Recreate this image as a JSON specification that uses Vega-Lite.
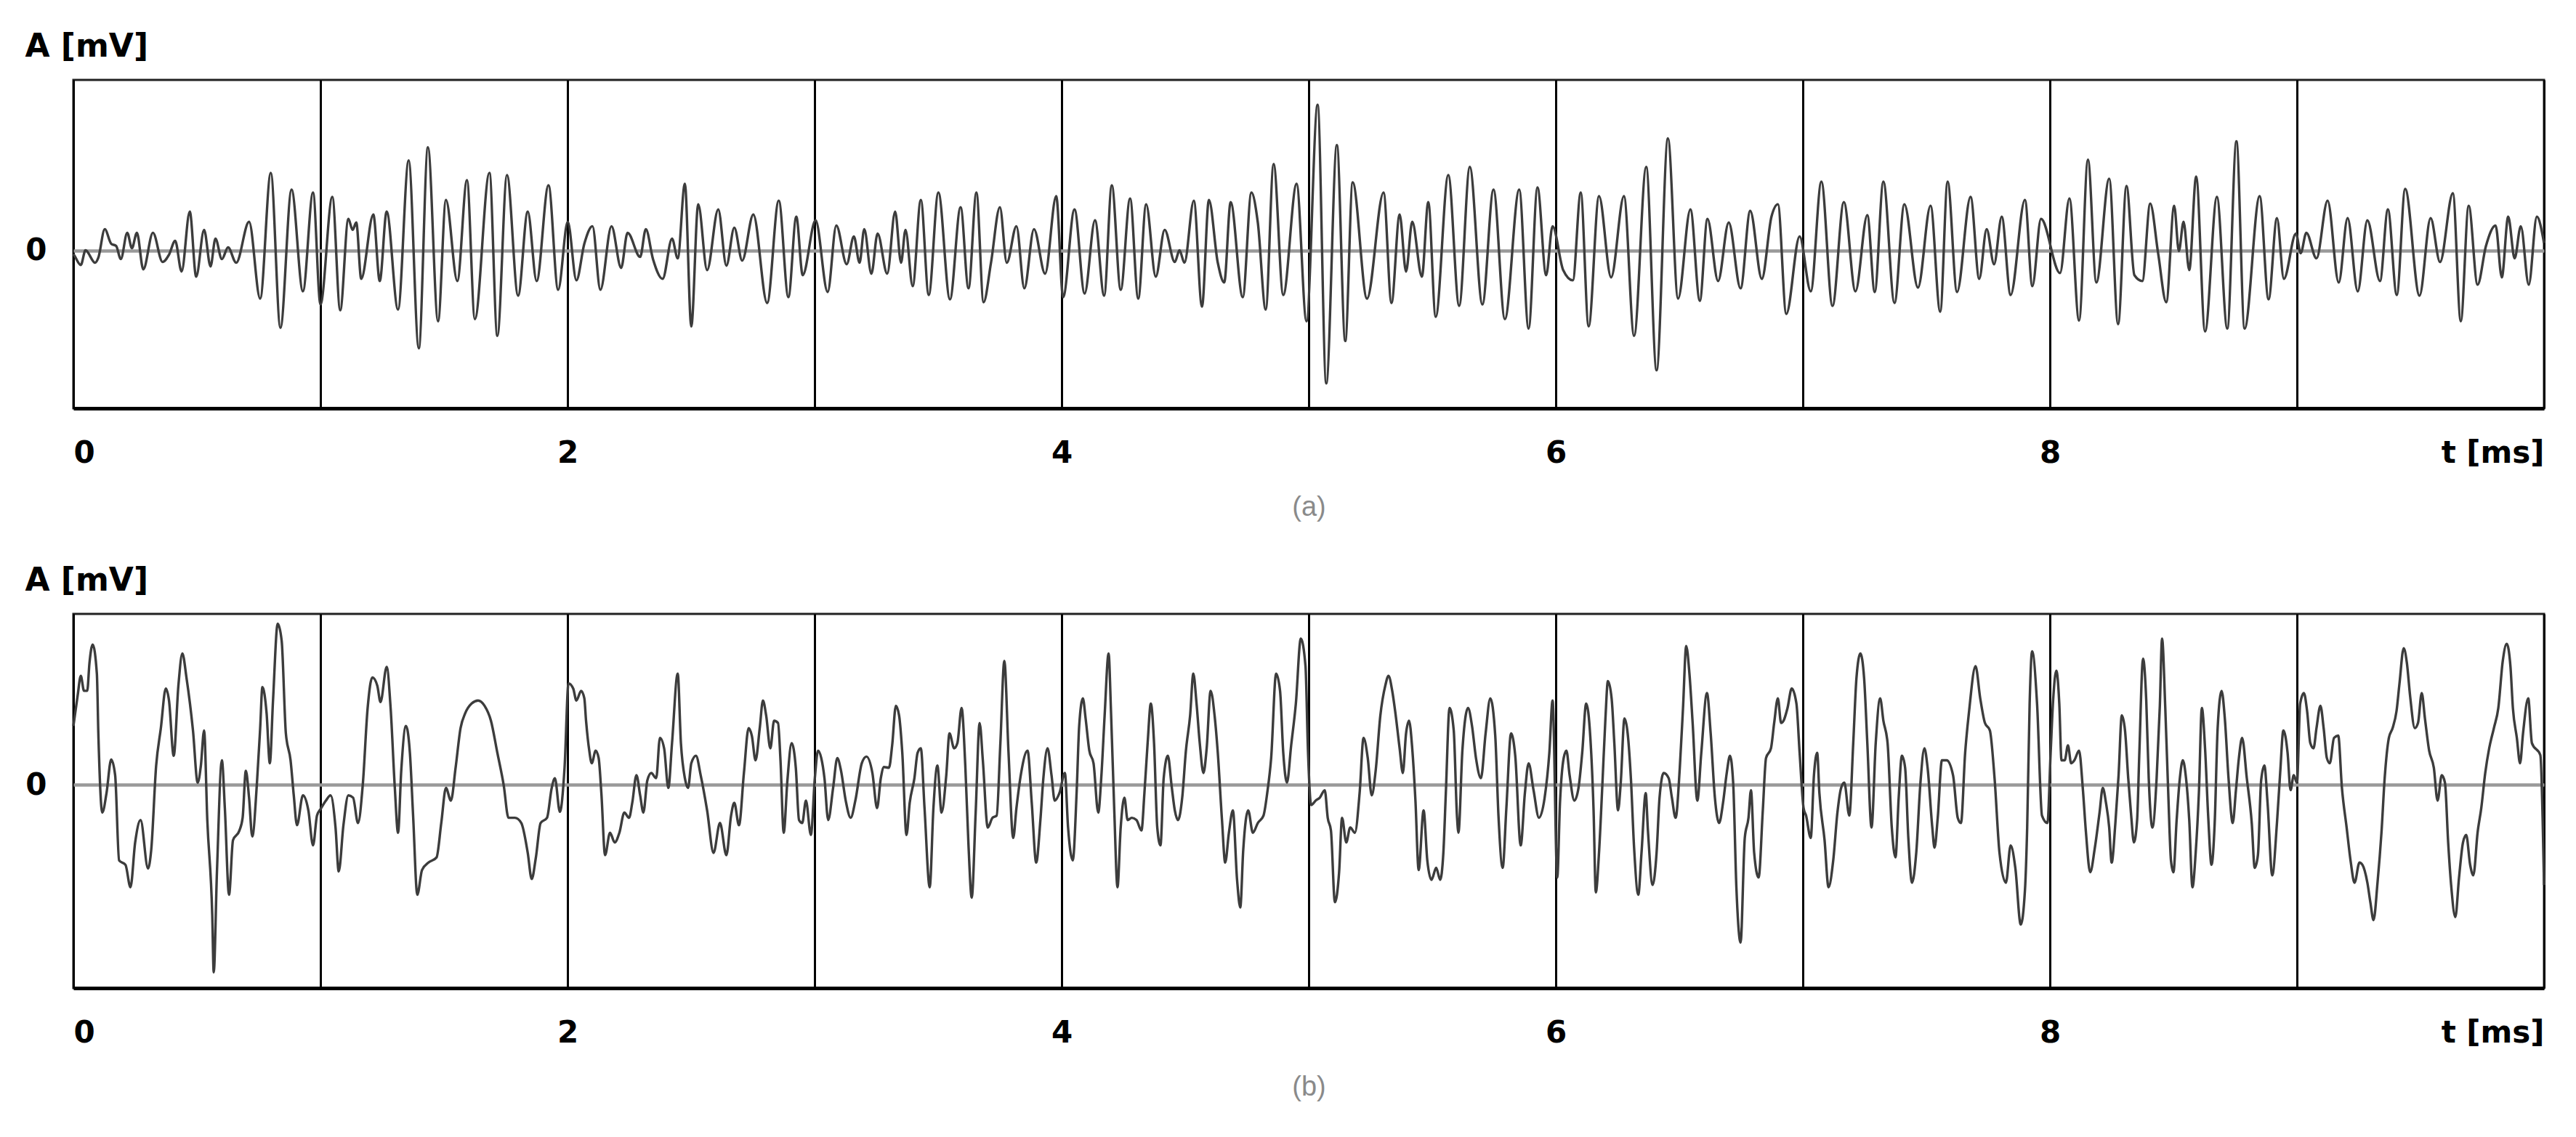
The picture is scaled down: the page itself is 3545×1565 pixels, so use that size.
{
"$schema": "https://vega.github.io/schema/vega-lite/v6.json",
"autosize": {"type": "pad"},
"padding": {"left": 32, "top": 40, "right": 20, "bottom": 20},
"background": "white",
"bounds": "flush",
"spacing": 283,
"config": {
  "view": {"stroke": "#222222", "strokeWidth": 3},
  "axisX": {
    "labelFlush": true, "labelOverlap": false,
    "labelFont": "DejaVu Sans", "labelFontWeight": "bold", "labelFontSize": 42, "labelColor": "#000000",
    "labelBaseline": "middle", "labelPadding": 61,
    "ticks": false, "tickSize": 0,
    "grid": true, "gridColor": "#000000", "gridWidth": 3,
    "domain": true, "domainColor": "#000000", "domainWidth": 5,
    "titleFont": "Liberation Sans", "titleFontWeight": "normal", "titleFontSize": 38, "titleColor": "#8a8a8a",
    "titleBaseline": "middle", "titleAlign": "center", "titleX": 1700, "titleY": 136
  },
  "axisY": {
    "labelFont": "DejaVu Sans", "labelFontWeight": "bold", "labelFontSize": 42, "labelColor": "#000000",
    "labelPadding": 37, "labelBaseline": "middle",
    "ticks": false, "tickSize": 0, "domain": false,
    "grid": true, "gridColor": "#999999", "gridWidth": 4.5,
    "titleAngle": 0, "titleAlign": "left", "titleBaseline": "alphabetic", "titleX": -67, "titleY": -33,
    "titleFont": "DejaVu Sans", "titleFontWeight": "bold", "titleFontSize": 44, "titleColor": "#000000"
  }
},
"datasets": {
"a": [
{"t":0,"v":-5},{"t":0.004,"v":-7},{"t":0.030,"v":-20},{"t":0.049,"v":0},{"t":0.088,"v":-17},{"t":0.101,"v":-10},{"t":0.127,"v":29},{"t":0.153,"v":9},{"t":0.173,"v":6},{"t":0.192,"v":-12},{"t":0.218,"v":24},{"t":0.237,"v":3},{"t":0.257,"v":24},{"t":0.283,"v":-26},{"t":0.322,"v":24},{"t":0.361,"v":-16},{"t":0.387,"v":-6},{"t":0.412,"v":13},{"t":0.438,"v":-29},{"t":0.471,"v":53},{"t":0.497,"v":-36},{"t":0.529,"v":28},{"t":0.555,"v":-22},{"t":0.575,"v":16},{"t":0.601,"v":-12},{"t":0.626,"v":4},{"t":0.659,"v":-17},{"t":0.711,"v":39},{"t":0.756,"v":-66},{"t":0.799,"v":106},{"t":0.838,"v":-106},{"t":0.883,"v":83},{"t":0.929,"v":-56},{"t":0.970,"v":79},{"t":1.000,"v":-74},{"t":1.048,"v":73},{"t":1.080,"v":-82},{"t":1.113,"v":43},{"t":1.130,"v":28},{"t":1.145,"v":38},{"t":1.165,"v":-39},{"t":1.214,"v":49},{"t":1.240,"v":-42},{"t":1.268,"v":53},{"t":1.314,"v":-81},{"t":1.357,"v":123},{"t":1.398,"v":-134},{"t":1.435,"v":141},{"t":1.476,"v":-97},{"t":1.508,"v":69},{"t":1.554,"v":-42},{"t":1.593,"v":96},{"t":1.625,"v":-94},{"t":1.684,"v":106},{"t":1.716,"v":-117},{"t":1.755,"v":103},{"t":1.800,"v":-62},{"t":1.839,"v":53},{"t":1.875,"v":-42},{"t":1.923,"v":89},{"t":1.962,"v":-54},{"t":2.001,"v":39},
{"t":2.036,"v":-41},{"t":2.068,"v":9},{"t":2.101,"v":33},{"t":2.133,"v":-54},{"t":2.178,"v":33},{"t":2.217,"v":-24},{"t":2.243,"v":24},{"t":2.294,"v":-9},{"t":2.317,"v":29},{"t":2.346,"v":-12},{"t":2.385,"v":-39},{"t":2.423,"v":16},{"t":2.446,"v":-11},{"t":2.475,"v":91},{"t":2.501,"v":-104},{"t":2.529,"v":63},{"t":2.565,"v":-27},{"t":2.610,"v":56},{"t":2.643,"v":-21},{"t":2.675,"v":31},{"t":2.707,"v":-14},{"t":2.752,"v":49},{"t":2.808,"v":-72},{"t":2.855,"v":68},{"t":2.894,"v":-64},{"t":2.926,"v":46},{"t":2.952,"v":-34},{"t":3.004,"v":41},{"t":3.053,"v":-57},{"t":3.088,"v":34},{"t":3.130,"v":-19},{"t":3.159,"v":19},{"t":3.182,"v":-17},{"t":3.201,"v":29},{"t":3.230,"v":-32},{"t":3.255,"v":23},{"t":3.294,"v":-32},{"t":3.326,"v":53},{"t":3.350,"v":-17},{"t":3.368,"v":28},{"t":3.397,"v":-49},{"t":3.430,"v":69},{"t":3.462,"v":-61},{"t":3.501,"v":79},{"t":3.548,"v":-67},{"t":3.591,"v":59},{"t":3.623,"v":-52},{"t":3.655,"v":79},{"t":3.684,"v":-71},{"t":3.714,"v":-17},{"t":3.750,"v":59},{"t":3.778,"v":-17},{"t":3.817,"v":33},{"t":3.849,"v":-52},{"t":3.888,"v":29},{"t":3.933,"v":-32},{"t":3.978,"v":74},
{"t":4.006,"v":-64},{"t":4.052,"v":56},{"t":4.093,"v":-59},{"t":4.135,"v":41},{"t":4.172,"v":-62},{"t":4.203,"v":89},{"t":4.239,"v":-54},{"t":4.277,"v":71},{"t":4.310,"v":-66},{"t":4.342,"v":63},{"t":4.381,"v":-36},{"t":4.417,"v":28},{"t":4.458,"v":-16},{"t":4.477,"v":0},{"t":4.497,"v":-17},{"t":4.535,"v":68},{"t":4.568,"v":-77},{"t":4.596,"v":69},{"t":4.632,"v":-17},{"t":4.658,"v":-44},{"t":4.684,"v":66},{"t":4.733,"v":-64},{"t":4.768,"v":79},{"t":4.794,"v":38},{"t":4.826,"v":-81},{"t":4.858,"v":118},{"t":4.897,"v":-61},{"t":4.951,"v":91},{"t":4.991,"v":-97},{"t":5.036,"v":199},{"t":5.071,"v":-182},{"t":5.114,"v":144},{"t":5.148,"v":-124},{"t":5.178,"v":93},{"t":5.236,"v":-66},{"t":5.303,"v":79},{"t":5.335,"v":-72},{"t":5.368,"v":49},{"t":5.394,"v":-29},{"t":5.419,"v":39},{"t":5.458,"v":-36},{"t":5.484,"v":66},{"t":5.514,"v":-91},{"t":5.565,"v":103},{"t":5.609,"v":-76},{"t":5.652,"v":114},{"t":5.703,"v":-74},{"t":5.748,"v":83},{"t":5.794,"v":-94},{"t":5.852,"v":83},{"t":5.890,"v":-107},{"t":5.926,"v":86},{"t":5.961,"v":-34},{"t":5.987,"v":33},
{"t":6.030,"v":-27},{"t":6.069,"v":-41},{"t":6.101,"v":79},{"t":6.133,"v":-104},{"t":6.175,"v":74},{"t":6.224,"v":-37},{"t":6.276,"v":74},{"t":6.317,"v":-117},{"t":6.366,"v":114},{"t":6.408,"v":-164},{"t":6.454,"v":153},{"t":6.495,"v":-66},{"t":6.545,"v":56},{"t":6.583,"v":-69},{"t":6.614,"v":43},{"t":6.657,"v":-42},{"t":6.700,"v":38},{"t":6.748,"v":-52},{"t":6.787,"v":54},{"t":6.834,"v":-39},{"t":6.873,"v":46},{"t":6.899,"v":63},{"t":6.933,"v":-87},{"t":6.987,"v":19},{"t":7.032,"v":-56},{"t":7.075,"v":94},{"t":7.120,"v":-76},{"t":7.166,"v":66},{"t":7.213,"v":-56},{"t":7.261,"v":48},{"t":7.291,"v":-57},{"t":7.326,"v":94},{"t":7.371,"v":-72},{"t":7.411,"v":63},{"t":7.466,"v":-51},{"t":7.517,"v":61},{"t":7.556,"v":-84},{"t":7.586,"v":94},{"t":7.624,"v":-57},{"t":7.679,"v":73},{"t":7.714,"v":-39},{"t":7.744,"v":29},{"t":7.774,"v":-19},{"t":7.805,"v":46},{"t":7.841,"v":-61},{"t":7.899,"v":69},{"t":7.929,"v":-49},{"t":7.964,"v":43},
{"t":8.041,"v":-31},{"t":8.079,"v":71},{"t":8.118,"v":-96},{"t":8.154,"v":124},{"t":8.188,"v":-44},{"t":8.240,"v":98},{"t":8.276,"v":-101},{"t":8.310,"v":88},{"t":8.342,"v":-34},{"t":8.374,"v":-42},{"t":8.406,"v":64},{"t":8.438,"v":-4},{"t":8.471,"v":-71},{"t":8.503,"v":61},{"t":8.522,"v":-1},{"t":8.541,"v":39},{"t":8.564,"v":-27},{"t":8.592,"v":101},{"t":8.628,"v":-111},{"t":8.676,"v":73},{"t":8.718,"v":-107},{"t":8.755,"v":149},{"t":8.788,"v":-107},{"t":8.849,"v":74},{"t":8.885,"v":-67},{"t":8.919,"v":44},{"t":8.947,"v":-39},{"t":8.996,"v":23},{"t":9.015,"v":-4},{"t":9.038,"v":24},{"t":9.079,"v":-11},{"t":9.124,"v":68},{"t":9.169,"v":-44},{"t":9.205,"v":44},{"t":9.246,"v":-56},{"t":9.285,"v":41},{"t":9.336,"v":-42},{"t":9.368,"v":56},{"t":9.404,"v":-61},{"t":9.438,"v":84},{"t":9.496,"v":-62},{"t":9.541,"v":44},{"t":9.579,"v":-16},{"t":9.631,"v":78},{"t":9.663,"v":-97},{"t":9.695,"v":61},{"t":9.731,"v":-47},{"t":9.765,"v":6},{"t":9.804,"v":34},{"t":9.829,"v":-37},{"t":9.855,"v":46},{"t":9.881,"v":-11},{"t":9.906,"v":33},{"t":9.938,"v":-47},{"t":9.971,"v":46},{"t":10,"v":10}
],
"b": [
{"t":0,"v":79},{"t":0.017,"v":119},{"t":0.030,"v":146},{"t":0.043,"v":126},{"t":0.056,"v":126},{"t":0.065,"v":163},{"t":0.078,"v":188},{"t":0.095,"v":149},{"t":0.101,"v":69},{"t":0.117,"v":-37},{"t":0.134,"v":-11},{"t":0.153,"v":34},{"t":0.169,"v":13},{"t":0.185,"v":-101},{"t":0.211,"v":-107},{"t":0.231,"v":-137},{"t":0.250,"v":-77},{"t":0.272,"v":-47},{"t":0.302,"v":-112},{"t":0.315,"v":-87},{"t":0.335,"v":26},{"t":0.354,"v":76},{"t":0.374,"v":129},{"t":0.387,"v":113},{"t":0.406,"v":39},{"t":0.425,"v":133},{"t":0.441,"v":176},{"t":0.458,"v":143},{"t":0.484,"v":73},{"t":0.503,"v":3},{"t":0.516,"v":26},{"t":0.529,"v":73},{"t":0.542,"v":-47},{"t":0.562,"v":-174},{"t":0.568,"v":-251},{"t":0.581,"v":-117},{"t":0.601,"v":33},{"t":0.613,"v":-31},{"t":0.630,"v":-147},{"t":0.646,"v":-74},{"t":0.672,"v":-61},{"t":0.685,"v":-44},{"t":0.698,"v":19},{"t":0.711,"v":-17},{"t":0.724,"v":-69},{"t":0.743,"v":3},{"t":0.756,"v":76},{"t":0.765,"v":131},{"t":0.782,"v":96},{"t":0.795,"v":29},{"t":0.808,"v":113},{"t":0.827,"v":216},{"t":0.843,"v":193},{"t":0.860,"v":69},{"t":0.879,"v":33},{"t":0.892,"v":-14},{"t":0.905,"v":-54},{"t":0.929,"v":-14},{"t":0.951,"v":-34},{"t":0.970,"v":-81},{"t":0.986,"v":-41},{"t":1.003,"v":-31},{"t":1.022,"v":-21},{"t":1.041,"v":-14},{"t":1.061,"v":-57},{"t":1.074,"v":-116},{"t":1.093,"v":-54},{"t":1.113,"v":-14},{"t":1.132,"v":-17},{"t":1.152,"v":-51},{"t":1.171,"v":-1},{"t":1.191,"v":103},{"t":1.210,"v":144},{"t":1.230,"v":133},{"t":1.243,"v":111},{"t":1.268,"v":158},{"t":1.284,"v":103},{"t":1.301,"v":-4},{"t":1.314,"v":-64},{"t":1.327,"v":19},{"t":1.346,"v":79},{"t":1.362,"v":43},{"t":1.375,"v":-41},{"t":1.392,"v":-147},{"t":1.411,"v":-114},{"t":1.437,"v":-104},{"t":1.470,"v":-97},{"t":1.489,"v":-51},{"t":1.508,"v":-4},{"t":1.528,"v":-21},{"t":1.547,"v":23},{"t":1.567,"v":76},{"t":1.586,"v":96},{"t":1.612,"v":109},{"t":1.638,"v":113},{"t":1.664,"v":106},{"t":1.690,"v":86},{"t":1.716,"v":43},{"t":1.742,"v":-1},{"t":1.761,"v":-44},{"t":1.787,"v":-44},{"t":1.813,"v":-51},{"t":1.839,"v":-91},{"t":1.855,"v":-126},{"t":1.872,"v":-97},{"t":1.891,"v":-51},{"t":1.917,"v":-44},{"t":1.936,"v":-4},{"t":1.949,"v":9},{"t":1.969,"v":-36},{"t":1.988,"v":23},
{"t":2.004,"v":136},{"t":2.023,"v":129},{"t":2.036,"v":113},{"t":2.055,"v":126},{"t":2.068,"v":116},{"t":2.075,"v":86},{"t":2.088,"v":46},{"t":2.098,"v":29},{"t":2.114,"v":46},{"t":2.126,"v":36},{"t":2.137,"v":-11},{"t":2.152,"v":-94},{"t":2.172,"v":-64},{"t":2.191,"v":-77},{"t":2.210,"v":-64},{"t":2.230,"v":-37},{"t":2.249,"v":-44},{"t":2.262,"v":-24},{"t":2.279,"v":13},{"t":2.294,"v":-14},{"t":2.307,"v":-37},{"t":2.323,"v":6},{"t":2.339,"v":16},{"t":2.359,"v":9},{"t":2.374,"v":63},{"t":2.391,"v":49},{"t":2.408,"v":-4},{"t":2.423,"v":56},{"t":2.446,"v":149},{"t":2.459,"v":56},{"t":2.475,"v":9},{"t":2.488,"v":-4},{"t":2.501,"v":29},{"t":2.520,"v":39},{"t":2.539,"v":13},{"t":2.565,"v":-34},{"t":2.591,"v":-91},{"t":2.617,"v":-51},{"t":2.643,"v":-94},{"t":2.662,"v":-41},{"t":2.675,"v":-24},{"t":2.694,"v":-54},{"t":2.714,"v":16},{"t":2.733,"v":76},{"t":2.746,"v":66},{"t":2.761,"v":33},{"t":2.778,"v":76},{"t":2.791,"v":113},{"t":2.804,"v":93},{"t":2.821,"v":49},{"t":2.836,"v":86},{"t":2.852,"v":83},{"t":2.862,"v":33},{"t":2.875,"v":-64},{"t":2.890,"v":6},{"t":2.907,"v":56},{"t":2.924,"v":23},{"t":2.937,"v":-47},{"t":2.950,"v":-51},{"t":2.965,"v":-21},{"t":2.985,"v":-67},{"t":3.001,"v":9},{"t":3.014,"v":46},{"t":3.027,"v":36},{"t":3.040,"v":9},{"t":3.055,"v":-47},{"t":3.075,"v":-4},{"t":3.092,"v":36},{"t":3.107,"v":19},{"t":3.126,"v":-21},{"t":3.146,"v":-44},{"t":3.165,"v":-21},{"t":3.191,"v":29},{"t":3.210,"v":38},{"t":3.234,"v":16},{"t":3.253,"v":-31},{"t":3.268,"v":9},{"t":3.281,"v":24},{"t":3.301,"v":23},{"t":3.314,"v":53},{"t":3.329,"v":106},{"t":3.342,"v":93},{"t":3.355,"v":43},{"t":3.372,"v":-67},{"t":3.385,"v":-24},{"t":3.404,"v":9},{"t":3.417,"v":43},{"t":3.430,"v":49},{"t":3.445,"v":-31},{"t":3.466,"v":-137},{"t":3.481,"v":-31},{"t":3.497,"v":26},{"t":3.514,"v":-37},{"t":3.533,"v":13},{"t":3.546,"v":69},{"t":3.565,"v":49},{"t":3.578,"v":56},{"t":3.595,"v":103},{"t":3.610,"v":26},{"t":3.623,"v":-81},{"t":3.636,"v":-151},{"t":3.652,"v":-37},{"t":3.668,"v":83},{"t":3.681,"v":33},{"t":3.701,"v":-57},{"t":3.720,"v":-44},{"t":3.737,"v":-41},{"t":3.752,"v":56},{"t":3.768,"v":166},{"t":3.785,"v":43},{"t":3.804,"v":-71},{"t":3.817,"v":-31},{"t":3.836,"v":16},{"t":3.862,"v":46},{"t":3.879,"v":-24},{"t":3.897,"v":-104},{"t":3.914,"v":-47},{"t":3.926,"v":9},{"t":3.943,"v":49},{"t":3.959,"v":13},{"t":3.972,"v":-21},{"t":3.991,"v":-11},
{"t":4.013,"v":16},{"t":4.026,"v":-57},{"t":4.045,"v":-101},{"t":4.061,"v":-7},{"t":4.071,"v":79},{"t":4.086,"v":116},{"t":4.097,"v":89},{"t":4.112,"v":46},{"t":4.129,"v":29},{"t":4.148,"v":-37},{"t":4.161,"v":13},{"t":4.174,"v":93},{"t":4.190,"v":176},{"t":4.200,"v":96},{"t":4.213,"v":-34},{"t":4.226,"v":-137},{"t":4.239,"v":-57},{"t":4.254,"v":-17},{"t":4.267,"v":-47},{"t":4.284,"v":-44},{"t":4.303,"v":-47},{"t":4.323,"v":-61},{"t":4.335,"v":-11},{"t":4.348,"v":56},{"t":4.361,"v":109},{"t":4.374,"v":56},{"t":4.387,"v":-57},{"t":4.400,"v":-81},{"t":4.413,"v":9},{"t":4.430,"v":39},{"t":4.445,"v":-1},{"t":4.458,"v":-34},{"t":4.471,"v":-47},{"t":4.488,"v":-17},{"t":4.503,"v":46},{"t":4.520,"v":93},{"t":4.533,"v":149},{"t":4.546,"v":109},{"t":4.559,"v":56},{"t":4.574,"v":16},{"t":4.587,"v":49},{"t":4.603,"v":126},{"t":4.619,"v":93},{"t":4.632,"v":43},{"t":4.649,"v":-47},{"t":4.662,"v":-104},{"t":4.677,"v":-64},{"t":4.693,"v":-34},{"t":4.710,"v":-127},{"t":4.723,"v":-164},{"t":4.735,"v":-87},{"t":4.755,"v":-34},{"t":4.774,"v":-64},{"t":4.794,"v":-51},{"t":4.817,"v":-41},{"t":4.832,"v":-11},{"t":4.848,"v":36},{"t":4.868,"v":149},{"t":4.884,"v":126},{"t":4.897,"v":43},{"t":4.912,"v":3},{"t":4.929,"v":53},{"t":4.948,"v":109},{"t":4.968,"v":196},{"t":4.987,"v":159},{"t":4.997,"v":46},{"t":5.010,"v":-27},{"t":5.028,"v":-21},{"t":5.045,"v":-17},{"t":5.065,"v":-7},{"t":5.077,"v":-44},{"t":5.090,"v":-61},{"t":5.106,"v":-157},{"t":5.123,"v":-117},{"t":5.135,"v":-44},{"t":5.152,"v":-77},{"t":5.168,"v":-57},{"t":5.187,"v":-64},{"t":5.206,"v":-11},{"t":5.222,"v":63},{"t":5.239,"v":36},{"t":5.255,"v":-14},{"t":5.271,"v":19},{"t":5.290,"v":93},{"t":5.310,"v":133},{"t":5.323,"v":146},{"t":5.338,"v":126},{"t":5.351,"v":96},{"t":5.368,"v":49},{"t":5.381,"v":16},{"t":5.394,"v":69},{"t":5.406,"v":86},{"t":5.419,"v":49},{"t":5.432,"v":-21},{"t":5.445,"v":-114},{"t":5.465,"v":-34},{"t":5.480,"v":-101},{"t":5.497,"v":-127},{"t":5.516,"v":-111},{"t":5.532,"v":-127},{"t":5.545,"v":-91},{"t":5.555,"v":-11},{"t":5.570,"v":103},{"t":5.587,"v":73},{"t":5.600,"v":-41},{"t":5.606,"v":-64},{"t":5.622,"v":46},{"t":5.645,"v":103},{"t":5.661,"v":79},{"t":5.677,"v":36},{"t":5.697,"v":9},{"t":5.716,"v":69},{"t":5.735,"v":116},{"t":5.755,"v":66},{"t":5.768,"v":-41},{"t":5.785,"v":-111},{"t":5.800,"v":-31},{"t":5.819,"v":69},{"t":5.836,"v":39},{"t":5.858,"v":-81},{"t":5.875,"v":-11},{"t":5.890,"v":29},{"t":5.910,"v":-7},{"t":5.932,"v":-44},{"t":5.955,"v":-17},{"t":5.974,"v":43},{"t":5.987,"v":113},
{"t":6.006,"v":-124},{"t":6.017,"v":-24},{"t":6.032,"v":36},{"t":6.043,"v":46},{"t":6.056,"v":13},{"t":6.075,"v":-21},{"t":6.092,"v":-4},{"t":6.107,"v":43},{"t":6.123,"v":109},{"t":6.140,"v":63},{"t":6.153,"v":-34},{"t":6.162,"v":-144},{"t":6.175,"v":-91},{"t":6.188,"v":-4},{"t":6.201,"v":89},{"t":6.211,"v":139},{"t":6.226,"v":116},{"t":6.237,"v":56},{"t":6.252,"v":-34},{"t":6.263,"v":3},{"t":6.278,"v":89},{"t":6.291,"v":69},{"t":6.304,"v":9},{"t":6.317,"v":-84},{"t":6.334,"v":-147},{"t":6.347,"v":-91},{"t":6.364,"v":-11},{"t":6.373,"v":-61},{"t":6.392,"v":-134},{"t":6.408,"v":-91},{"t":6.420,"v":-17},{"t":6.437,"v":16},{"t":6.457,"v":9},{"t":6.470,"v":-17},{"t":6.485,"v":-44},{"t":6.502,"v":23},{"t":6.515,"v":103},{"t":6.528,"v":186},{"t":6.541,"v":149},{"t":6.554,"v":83},{"t":6.573,"v":-21},{"t":6.589,"v":43},{"t":6.612,"v":123},{"t":6.627,"v":69},{"t":6.644,"v":-17},{"t":6.661,"v":-51},{"t":6.677,"v":-24},{"t":6.692,"v":16},{"t":6.705,"v":39},{"t":6.718,"v":3},{"t":6.731,"v":-137},{"t":6.748,"v":-211},{"t":6.765,"v":-71},{"t":6.780,"v":-44},{"t":6.790,"v":-7},{"t":6.803,"v":-91},{"t":6.821,"v":-124},{"t":6.838,"v":-34},{"t":6.851,"v":36},{"t":6.871,"v":49},{"t":6.884,"v":83},{"t":6.899,"v":116},{"t":6.912,"v":83},{"t":6.922,"v":86},{"t":6.938,"v":103},{"t":6.955,"v":129},{"t":6.974,"v":109},{"t":6.987,"v":43},{"t":7.003,"v":-31},{"t":7.013,"v":-41},{"t":7.032,"v":-71},{"t":7.045,"v":13},{"t":7.058,"v":43},{"t":7.067,"v":-11},{"t":7.088,"v":-74},{"t":7.104,"v":-137},{"t":7.123,"v":-101},{"t":7.140,"v":-37},{"t":7.155,"v":-4},{"t":7.168,"v":3},{"t":7.188,"v":-41},{"t":7.204,"v":56},{"t":7.217,"v":143},{"t":7.233,"v":176},{"t":7.248,"v":143},{"t":7.261,"v":56},{"t":7.278,"v":-57},{"t":7.295,"v":56},{"t":7.313,"v":116},{"t":7.326,"v":86},{"t":7.343,"v":56},{"t":7.360,"v":-57},{"t":7.375,"v":-97},{"t":7.388,"v":-17},{"t":7.401,"v":39},{"t":7.414,"v":23},{"t":7.427,"v":-71},{"t":7.442,"v":-131},{"t":7.459,"v":-91},{"t":7.476,"v":3},{"t":7.492,"v":49},{"t":7.505,"v":23},{"t":7.524,"v":-57},{"t":7.533,"v":-84},{"t":7.546,"v":-44},{"t":7.563,"v":33},{"t":7.582,"v":33},{"t":7.608,"v":13},{"t":7.627,"v":-44},{"t":7.640,"v":-51},{"t":7.657,"v":43},{"t":7.673,"v":99},{"t":7.699,"v":159},{"t":7.718,"v":116},{"t":7.737,"v":83},{"t":7.757,"v":73},{"t":7.776,"v":9},{"t":7.796,"v":-91},{"t":7.822,"v":-131},{"t":7.841,"v":-81},{"t":7.860,"v":-111},{"t":7.882,"v":-187},{"t":7.899,"v":-141},{"t":7.908,"v":-57},{"t":7.918,"v":109},{"t":7.928,"v":179},{"t":7.948,"v":109},{"t":7.968,"v":-41},{"t":7.990,"v":-51},
{"t":8.003,"v":43},{"t":8.013,"v":113},{"t":8.026,"v":153},{"t":8.038,"v":109},{"t":8.047,"v":33},{"t":8.060,"v":33},{"t":8.073,"v":53},{"t":8.086,"v":29},{"t":8.099,"v":33},{"t":8.118,"v":46},{"t":8.133,"v":-4},{"t":8.146,"v":-64},{"t":8.163,"v":-117},{"t":8.182,"v":-84},{"t":8.201,"v":-37},{"t":8.214,"v":-4},{"t":8.227,"v":-24},{"t":8.240,"v":-57},{"t":8.250,"v":-104},{"t":8.265,"v":-51},{"t":8.278,"v":13},{"t":8.291,"v":93},{"t":8.304,"v":73},{"t":8.317,"v":9},{"t":8.329,"v":-41},{"t":8.340,"v":-77},{"t":8.353,"v":-47},{"t":8.362,"v":43},{"t":8.377,"v":169},{"t":8.390,"v":113},{"t":8.400,"v":9},{"t":8.415,"v":-57},{"t":8.432,"v":9},{"t":8.445,"v":106},{"t":8.454,"v":196},{"t":8.467,"v":103},{"t":8.479,"v":-11},{"t":8.490,"v":-101},{"t":8.500,"v":-117},{"t":8.513,"v":-47},{"t":8.526,"v":9},{"t":8.538,"v":33},{"t":8.551,"v":9},{"t":8.564,"v":-47},{"t":8.577,"v":-137},{"t":8.590,"v":-91},{"t":8.603,"v":-11},{"t":8.615,"v":103},{"t":8.628,"v":49},{"t":8.641,"v":-44},{"t":8.654,"v":-107},{"t":8.667,"v":-51},{"t":8.679,"v":76},{"t":8.695,"v":126},{"t":8.708,"v":89},{"t":8.723,"v":9},{"t":8.740,"v":-51},{"t":8.753,"v":-7},{"t":8.765,"v":36},{"t":8.778,"v":63},{"t":8.797,"v":9},{"t":8.817,"v":-51},{"t":8.829,"v":-111},{"t":8.842,"v":-94},{"t":8.855,"v":6},{"t":8.868,"v":26},{"t":8.881,"v":-24},{"t":8.900,"v":-121},{"t":8.919,"v":-51},{"t":8.932,"v":16},{"t":8.945,"v":73},{"t":8.962,"v":43},{"t":8.974,"v":-7},{"t":8.987,"v":13},{"t":9.000,"v":3},{"t":9.013,"v":109},{"t":9.028,"v":123},{"t":9.041,"v":99},{"t":9.054,"v":56},{"t":9.067,"v":49},{"t":9.079,"v":76},{"t":9.095,"v":106},{"t":9.108,"v":76},{"t":9.121,"v":36},{"t":9.133,"v":29},{"t":9.150,"v":63},{"t":9.167,"v":66},{"t":9.182,"v":-4},{"t":9.201,"v":-57},{"t":9.218,"v":-104},{"t":9.233,"v":-131},{"t":9.253,"v":-104},{"t":9.265,"v":-107},{"t":9.285,"v":-131},{"t":9.297,"v":-157},{"t":9.310,"v":-181},{"t":9.326,"v":-131},{"t":9.342,"v":-64},{"t":9.355,"v":9},{"t":9.372,"v":63},{"t":9.387,"v":76},{"t":9.403,"v":99},{"t":9.415,"v":136},{"t":9.432,"v":183},{"t":9.445,"v":163},{"t":9.458,"v":119},{"t":9.477,"v":76},{"t":9.490,"v":83},{"t":9.505,"v":123},{"t":9.518,"v":89},{"t":9.535,"v":46},{"t":9.554,"v":23},{"t":9.569,"v":-21},{"t":9.586,"v":13},{"t":9.599,"v":3},{"t":9.612,"v":-77},{"t":9.624,"v":-134},{"t":9.641,"v":-177},{"t":9.656,"v":-124},{"t":9.672,"v":-77},{"t":9.685,"v":-67},{"t":9.701,"v":-107},{"t":9.714,"v":-121},{"t":9.731,"v":-64},{"t":9.746,"v":-31},{"t":9.762,"v":16},{"t":9.778,"v":49},{"t":9.797,"v":76},{"t":9.815,"v":103},{"t":9.833,"v":166},{"t":9.849,"v":189},{"t":9.864,"v":159},{"t":9.874,"v":103},{"t":9.890,"v":63},{"t":9.903,"v":29},{"t":9.915,"v":69},{"t":9.936,"v":116},{"t":9.951,"v":56},{"t":9.985,"v":40},{"t":10,"v":-134}
]
},
"vconcat": [
  {
    "width": 3400, "height": 452,
    "data": {"name": "a"},
    "mark": {"type": "line", "interpolate": "monotone", "stroke": "#3c3c3c", "strokeWidth": 3.4},
    "encoding": {
      "x": {"field": "t", "type": "quantitative", "scale": {"domain": [0, 10], "nice": false},
            "axis": {"title": "(a)", "values": [0,1,2,3,4,5,6,7,8,9,10], "labelExpr": "datum.value == 10 ? 't [ms]' : (datum.value % 2 == 0 ? format(datum.value, 'd') : '')"}},
      "y": {"field": "v", "type": "quantitative", "scale": {"domain": [-216, 233], "nice": false, "zero": false},
            "axis": {"title": "A [mV]", "values": [0], "labelExpr": "'0'"}}
    }
  },
  {
    "width": 3400, "height": 515,
    "data": {"name": "b"},
    "mark": {"type": "line", "interpolate": "monotone", "stroke": "#3c3c3c", "strokeWidth": 3.4},
    "encoding": {
      "x": {"field": "t", "type": "quantitative", "scale": {"domain": [0, 10], "nice": false},
            "axis": {"title": "(b)", "values": [0,1,2,3,4,5,6,7,8,9,10], "labelExpr": "datum.value == 10 ? 't [ms]' : (datum.value % 2 == 0 ? format(datum.value, 'd') : '')"}},
      "y": {"field": "v", "type": "quantitative", "scale": {"domain": [-272, 229], "nice": false, "zero": false},
            "axis": {"title": "A [mV]", "values": [0], "labelExpr": "'0'"}}
    }
  }
]
}
